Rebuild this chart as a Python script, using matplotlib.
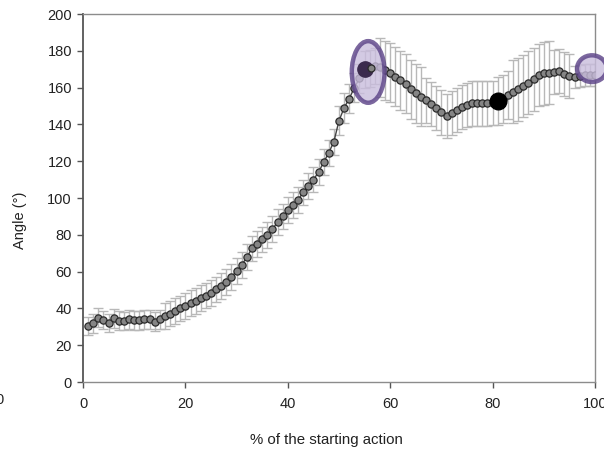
import numpy as np
import matplotlib.pyplot as plt
from matplotlib.patches import Ellipse

plt.rcParams['font.family'] = ['Liberation Sans', 'DejaVu Sans']

# percentage of the starting action (1..100)
pct = np.arange(1, 101)

angle = [30.4, 31.9, 35.0, 33.7, 32.2, 34.6, 33.4, 33.0, 34.0, 33.5,
         33.5, 34.0, 34.0, 32.8, 34.0, 35.8, 37.2, 38.5, 40.0, 41.5,
         43.0, 44.2, 45.5, 47.0, 48.5, 50.3, 52.3, 54.5, 57.0, 60.5,
         63.6, 67.8, 72.6, 75.0, 77.5, 80.0, 83.0, 87.0, 90.0, 93.5,
         96.0, 99.0, 103.0, 106.5, 110.0, 114.0, 119.4, 124.6, 130.6, 142.0,
         149.0, 154.0, 160.0, 165.0, 170.0, 170.5, 171.7, 171.0, 169.5, 168.0,
         166.0, 164.0, 162.0, 159.0, 157.0, 155.0, 153.0, 151.0, 148.7, 146.5,
         144.5, 146.0, 147.8, 149.3, 150.5, 151.4, 151.4, 151.4, 151.4, 151.6,
         152.5, 154.0, 156.0, 157.8, 159.0, 160.9, 162.7, 164.5, 166.8, 167.8,
         168.2, 168.7, 169.0, 167.2, 166.3, 166.0, 166.5, 166.8, 166.8, 166.8]

sd = [5] * 15 + [7] * 14 + [7] * 20 + [8] * 5 + [10] * 3 + [16] * 9 + \
     [12] * 14 + [13] * 3 + [17] * 8 + [12] * 4 + [6] * 5

# highlighted events
event_x = [55, 81]
event_y = [170.0, 152.5]

fig = plt.figure(figsize=(6.04, 4.54), dpi=100)
ax = fig.add_axes([83/604, 1-382/454, 512/604, 368/454])

ax.errorbar(pct, angle, yerr=sd, fmt='none', ecolor='#b8b8b8',
            elinewidth=1, capsize=3.5, capthick=1, zorder=1)
ax.plot(pct, angle, '-', color='#444444', lw=1, zorder=2)
ax.plot(pct, angle, 'o', ms=5.2, mfc='#858585', mec='#2a2a2a', mew=0.9, zorder=3)

# ellipses around the peak and the end of the movement
ax.add_patch(Ellipse((55.7, 168.5), 6.4, 33.5, facecolor='#c9bddd', alpha=0.8,
                     edgecolor='#5a4186', lw=3.2, zorder=4))
ax.add_patch(Ellipse((99.4, 170.3), 5.8, 14.5, facecolor='#c9bddd', alpha=0.8,
                     edgecolor='#5a4186', lw=3.2, zorder=4, clip_on=False))

ax.plot(event_x[0], event_y[0], 'o', ms=11, color='#3b2a4d', zorder=5)
ax.plot(event_x[1], event_y[1], 'o', ms=12, color='black', zorder=5)
ax.plot([event_x[0] + 1.2], [event_y[0] + 0.5], 'o', ms=5, mfc='#858585',
        mec='#2a2a2a', mew=0.9, zorder=5)

ax.set_xlim(0, 100)
ax.set_ylim(0, 200)
ax.set_xticks(range(0, 101, 20))
ax.set_yticks(range(0, 201, 20))
for s in ax.spines.values():
    s.set_color('#8c8c8c')
    s.set_linewidth(1)
ax.spines['left'].set_color('#555555')
ax.spines['left'].set_linewidth(1.3)
ax.tick_params(direction='out', length=4, width=1, colors='#555555',
               labelsize=10.5, labelcolor='#222222', pad=4)
ax.tick_params(axis='x', pad=7)

fig.text(20/604, 1-220/454, 'Angle (°)', rotation=90, ha='center', va='center',
         fontsize=10.5, color='#222222')
fig.text(326/604, 1-440/454, '% of the starting action', ha='center', va='center',
         fontsize=10.8, color='#222222')
fig.text(-5/604, 1-400/454, '0', ha='left', va='center', fontsize=10.5,
         color='#222222')

fig.savefig('out.png', dpi=100)
